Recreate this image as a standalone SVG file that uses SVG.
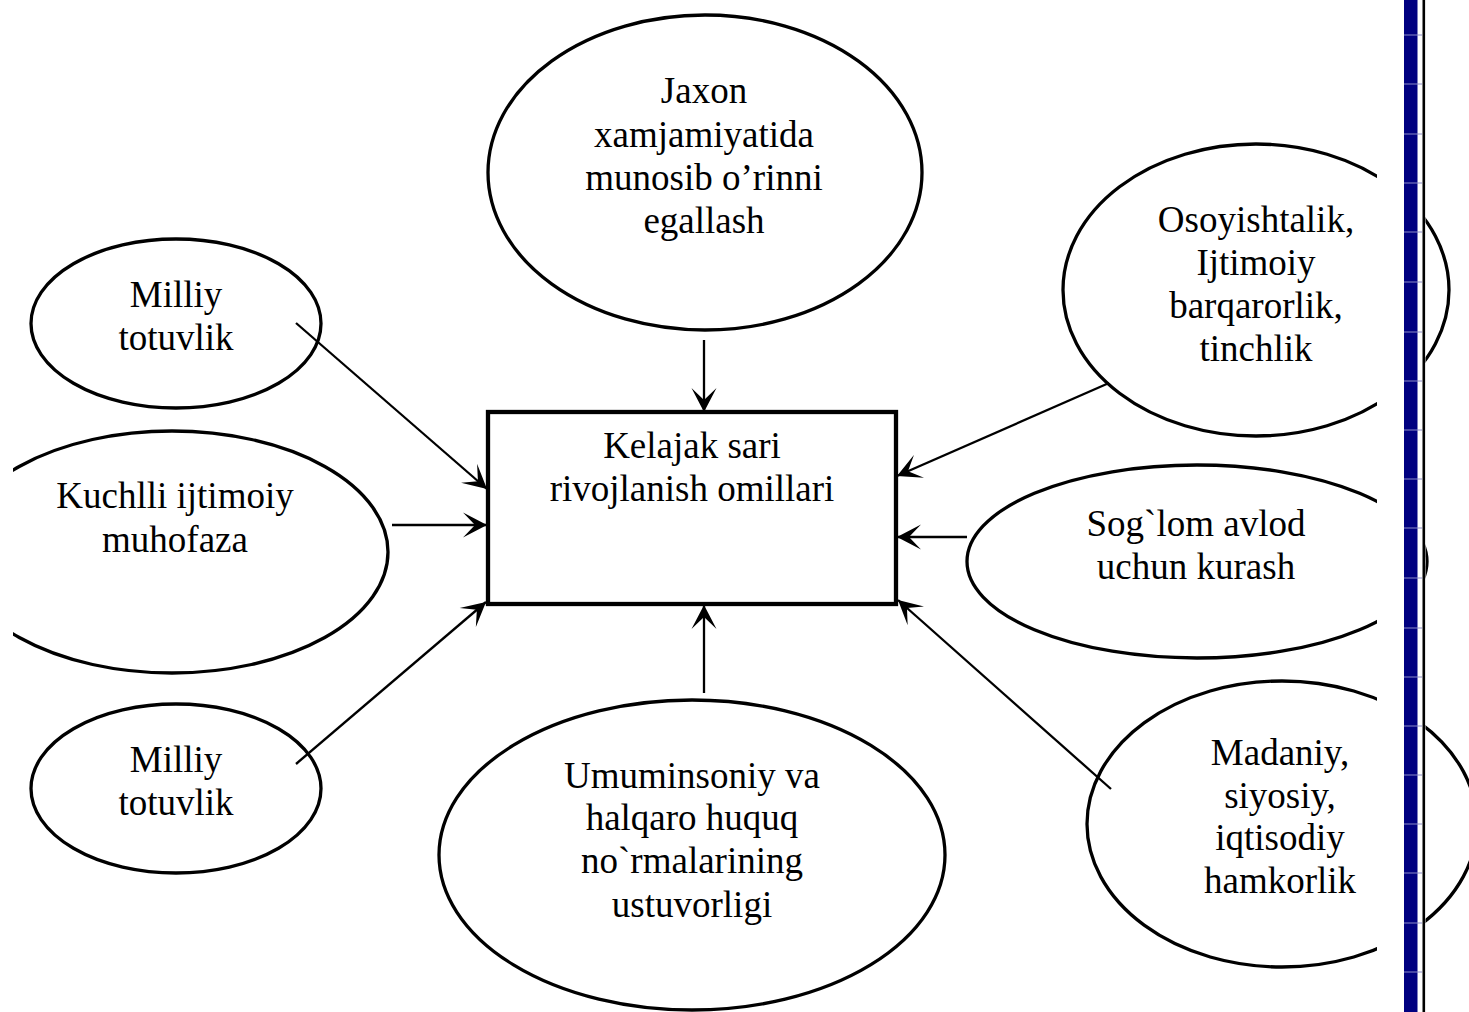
<svg xmlns="http://www.w3.org/2000/svg" width="1469" height="1012" viewBox="0 0 1469 1012">
<style>
.node{fill:#fff;stroke:#000;stroke-width:3.3}
.box{fill:#fff;stroke:#000;stroke-width:4.3}
.t{font-family:"Liberation Serif","Times New Roman",serif;font-size:37px;fill:#000;text-anchor:middle}
.conn line{stroke:#000;stroke-width:2.3;marker-end:url(#arr)}
.grid{stroke:#8c8cc8;stroke-width:1}
</style>
<defs>
<marker id="arr" viewBox="-24 -13 26 26" refX="0" refY="0" markerWidth="26" markerHeight="26" markerUnits="userSpaceOnUse" orient="auto">
<path d="M0,0 L-24,-12.5 L-12,0 L-24,12.5 Z" fill="#000"/>
</marker>
<clipPath id="clipL"><rect x="13" y="0" width="1456" height="1012"/></clipPath>
<clipPath id="clipR"><rect x="0" y="0" width="1377" height="1012"/><rect x="1425.5" y="0" width="60" height="1012"/></clipPath>
</defs>
<rect width="1469" height="1012" fill="#fff"/>

<g id="n-jaxon">
<ellipse class="node" cx="705" cy="172.5" rx="217" ry="157.5"/>
<text class="t" x="704" y="103">Jaxon</text>
<text class="t" x="704" y="147">xamjamiyatida</text>
<text class="t" x="704" y="190">munosib o’rinni</text>
<text class="t" x="704" y="233">egallash</text>
</g>

<g id="n-milliy1">
<ellipse class="node" cx="176" cy="323.5" rx="145" ry="84.5"/>
<text class="t" x="176" y="307">Milliy</text>
<text class="t" x="176" y="350">totuvlik</text>
</g>

<g id="n-kuchlli">
<ellipse class="node" cx="172" cy="552" rx="216" ry="121" clip-path="url(#clipL)"/>
<text class="t" x="175" y="508">Kuchlli ijtimoiy</text>
<text class="t" x="175" y="552">muhofaza</text>
</g>

<g id="n-milliy2">
<ellipse class="node" cx="176" cy="788.5" rx="145" ry="84.5"/>
<text class="t" x="176" y="772">Milliy</text>
<text class="t" x="176" y="815">totuvlik</text>
</g>

<g id="n-umum">
<ellipse class="node" cx="692" cy="855" rx="253" ry="155"/>
<text class="t" x="692" y="788">Umuminsoniy va</text>
<text class="t" x="692" y="830">halqaro huquq</text>
<text class="t" x="692" y="873">no`rmalarining</text>
<text class="t" x="692" y="917">ustuvorligi</text>
</g>

<g id="n-osoy">
<ellipse class="node" cx="1256" cy="290" rx="193" ry="146" clip-path="url(#clipR)"/>
<text class="t" x="1256" y="232">Osoyishtalik,</text>
<text class="t" x="1256" y="275">Ijtimoiy</text>
<text class="t" x="1256" y="318">barqarorlik,</text>
<text class="t" x="1256" y="361">tinchlik</text>
</g>

<g id="n-soglom">
<ellipse class="node" cx="1197" cy="561.5" rx="230" ry="96.5" clip-path="url(#clipR)"/>
<text class="t" x="1196" y="536">Sog`lom avlod</text>
<text class="t" x="1196" y="579">uchun kurash</text>
</g>

<g id="n-madaniy">
<ellipse class="node" cx="1282" cy="824" rx="195" ry="143" clip-path="url(#clipR)"/>
<text class="t" x="1280" y="765">Madaniy,</text>
<text class="t" x="1280" y="808">siyosiy,</text>
<text class="t" x="1280" y="850">iqtisodiy</text>
<text class="t" x="1280" y="893">hamkorlik</text>
</g>

<g id="n-center">
<rect class="box" x="488" y="412" width="408" height="192"/>
<text class="t" x="692" y="458">Kelajak sari</text>
<text class="t" x="692" y="501">rivojlanish omillari</text>
</g>

<g id="connectors" class="conn">
<line x1="704" y1="340" x2="704" y2="412"/>
<line x1="296" y1="323" x2="487" y2="489"/>
<line x1="392" y1="525" x2="487" y2="525"/>
<line x1="296" y1="764" x2="486" y2="602"/>
<line x1="704" y1="693" x2="704" y2="605"/>
<line x1="1111" y1="789" x2="898" y2="600"/>
<line x1="967" y1="537" x2="897" y2="537"/>
<line x1="1109" y1="383" x2="897" y2="476"/>
</g>

<g id="border">
<rect x="1404" y="0" width="13.5" height="1012" fill="#000080"/>
<rect x="1422.5" y="0" width="2.6" height="1012" fill="#000"/>
<g class="grid">
<line x1="1404" y1="35" x2="1422" y2="35"/>
<line x1="1404" y1="84" x2="1422" y2="84"/>
<line x1="1404" y1="134" x2="1422" y2="134"/>
<line x1="1404" y1="183" x2="1422" y2="183"/>
<line x1="1404" y1="232" x2="1422" y2="232"/>
<line x1="1404" y1="282" x2="1422" y2="282"/>
<line x1="1404" y1="332" x2="1422" y2="332"/>
<line x1="1404" y1="381" x2="1422" y2="381"/>
<line x1="1404" y1="430" x2="1422" y2="430"/>
<line x1="1404" y1="479" x2="1422" y2="479"/>
<line x1="1404" y1="528" x2="1422" y2="528"/>
<line x1="1404" y1="578" x2="1422" y2="578"/>
<line x1="1404" y1="628" x2="1422" y2="628"/>
<line x1="1404" y1="677" x2="1422" y2="677"/>
<line x1="1404" y1="726" x2="1422" y2="726"/>
<line x1="1404" y1="775" x2="1422" y2="775"/>
<line x1="1404" y1="824" x2="1422" y2="824"/>
<line x1="1404" y1="873" x2="1422" y2="873"/>
<line x1="1404" y1="923" x2="1422" y2="923"/>
<line x1="1404" y1="972" x2="1422" y2="972"/>
</g>
</g>
</svg>
